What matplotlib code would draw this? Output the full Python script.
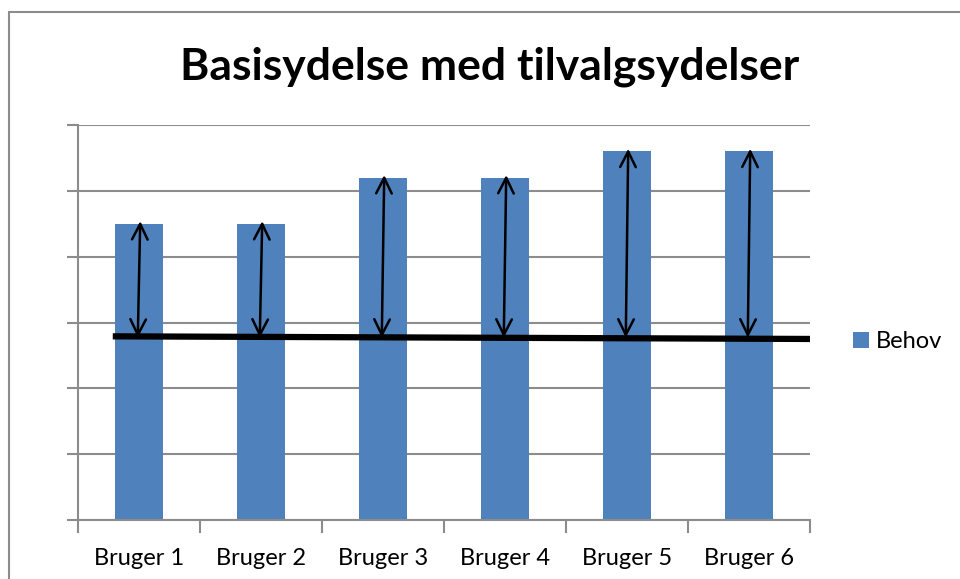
import matplotlib.pyplot as plt
from matplotlib.patches import Rectangle

brugere = ["Bruger 1", "Bruger 2", "Bruger 3", "Bruger 4", "Bruger 5", "Bruger 6"]
behov = [4.5, 4.5, 5.2, 5.2, 5.6, 5.6]
basis = 2.77  # basisydelse level (black line)

plt.rcParams["font.family"] = ["Lato", "DejaVu Sans"]

fig = plt.figure(figsize=(9.6, 5.79), dpi=100)
ax = fig.add_axes([0.08125, 0.1019, 0.7625, 0.6822])

x = list(range(len(brugere)))
ax.bar(x, behov, width=0.39, color="#4F81BD", label="Behov", zorder=2)

# basis line across the chart
ax.plot([-0.215, 5.5], [basis + 0.02, basis - 0.02], color="black", lw=4.5,
        solid_capstyle="butt", zorder=3, clip_on=False)

# double arrows from basis up to each bar top
for xi, v in zip(x, behov):
    ax.annotate("", xy=(xi + 0.01, v + 0.04), xytext=(xi - 0.01, basis),
                arrowprops=dict(arrowstyle="<->", color="black", lw=1.8,
                                mutation_scale=28, shrinkA=0, shrinkB=0),
                zorder=4)

ax.set_xlim(-0.5, 5.5)
ax.set_ylim(0, 6)
ax.set_yticks(range(7))
ax.set_yticklabels([])
ax.yaxis.grid(True, color="#8c8c8c", lw=1.5, zorder=0)
ax.tick_params(axis="y", length=8, color="#8c8c8c", width=1.5)

ax.set_xticks(x)
ax.set_xticklabels(brugere, fontsize=17)
ax.tick_params(axis="x", which="major", length=0, pad=20)
ax.set_xticks([i - 0.5 for i in range(len(brugere) + 1)], minor=True)
ax.tick_params(axis="x", which="minor", length=9, color="#8c8c8c", width=1.5)

for s in ["top", "right"]:
    ax.spines[s].set_visible(False)
for s in ["left", "bottom"]:
    ax.spines[s].set_color("#8c8c8c")
    ax.spines[s].set_linewidth(1.5)

fig.text(0.51, 0.884, "Basisydelse med tilvalgsydelser", ha="center", va="center",
         fontsize=32, fontweight="bold")

fig.legend(loc="center left", bbox_to_anchor=(0.866, 0.41), frameon=False,
           fontsize=17, handlelength=0.7, handleheight=0.7, handletextpad=0.3)

# outer chart border
fig.patches.append(Rectangle((9 / 960, -0.1), 1.2, 1 - 12 / 579 + 0.1,
                             transform=fig.transFigure, fill=False,
                             edgecolor="#8c8c8c", lw=1.5))

fig.savefig("out.png", dpi=100)
